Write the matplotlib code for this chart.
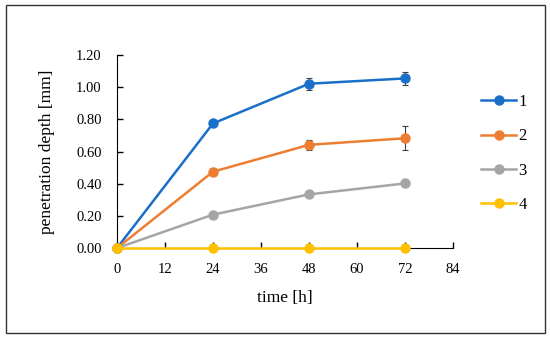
import matplotlib.pyplot as plt
from matplotlib.lines import Line2D
from matplotlib.patches import Rectangle

plt.rcParams['font.family'] = ['Liberation Serif', 'DejaVu Serif']

time_h = [0, 24, 48, 72]
depth_1 = [0.0, 0.775, 1.022, 1.055]
depth_2 = [0.0, 0.475, 0.642, 0.683]
depth_3 = [0.0, 0.208, 0.334, 0.402]
depth_4 = [0.0, 0.0, 0.0, 0.0]
err_1 = [0.0, 0.012, 0.036, 0.038]
err_2 = [0.0, 0.02, 0.03, 0.074]
err_3 = [0.0, 0.008, 0.014, 0.008]
err_4 = [0.0, 0.0, 0.0, 0.0]
labels = ['1', '2', '3', '4']
colors = ['#1a6fc9', '#ed7d31', '#a5a5a5', '#ffc000']

fig = plt.figure(figsize=(5.5, 3.38), dpi=100)
ax = fig.add_axes([0.2127, 0.266, 0.611, 0.571])

handles = []
for y, e, c, lab in zip([depth_1, depth_2, depth_3, depth_4],
                        [err_1, err_2, err_3, err_4], colors, labels):
    ax.errorbar(time_h, y, yerr=e, color=c, lw=1.8, marker='o', ms=6.5,
                ecolor='#404040', elinewidth=0.8, capsize=2.5, capthick=0.8,
                clip_on=False, zorder=3)
    handles.append(Line2D([], [], color=c, lw=1.8, marker='o', ms=6.5, label=lab))

ax.set_xlim(0, 84)
ax.set_ylim(0, 1.2)
ax.set_xticks(range(0, 85, 12))
ax.set_yticks([0, 0.2, 0.4, 0.6, 0.8, 1.0, 1.2])
ax.set_yticklabels(['%.2f' % v for v in ax.get_yticks()])
ax.spines['top'].set_visible(False)
ax.spines['right'].set_visible(False)
ax.tick_params(direction='in', length=4, width=1, labelsize=10.5)
ax.tick_params(axis='x', pad=11)
ax.tick_params(axis='y', pad=11)
ax.set_xlabel('time [h]', fontsize=12.5, labelpad=10)
ax.set_ylabel('penetration depth [mm]', fontsize=12.5, labelpad=15)

ax.legend(handles=handles, loc='center left', bbox_to_anchor=(1.04, 0.49),
          frameon=False, fontsize=12, labelspacing=1.1, handlelength=2.1,
          handletextpad=0.1)

fig.patches.append(Rectangle((6 / 550, 5 / 338), 539 / 550, 328 / 338,
                             transform=fig.transFigure, fill=False,
                             edgecolor='#333333', lw=1))

fig.savefig('out.png', dpi=100)
